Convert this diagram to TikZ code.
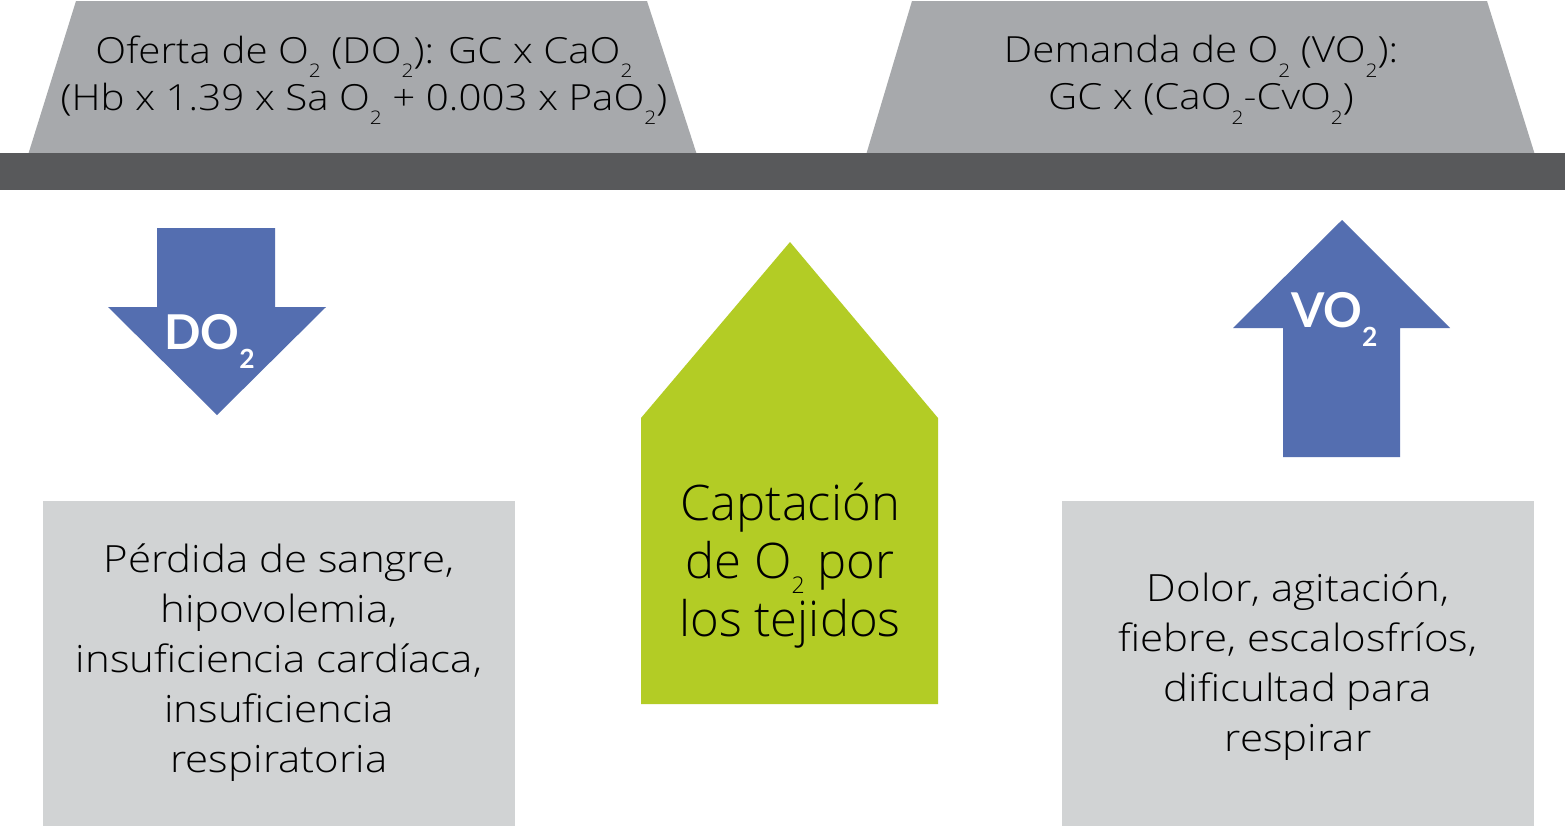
\documentclass[tikz,border=0pt]{standalone}
\usepackage{fontspec}
\setmainfont{Open Sans Light}
\newfontfamily\widefont{Open Sans Light}[FakeStretch=1.12]
\newfontfamily\arrowfont{Lato}
\definecolor{trapgray}{HTML}{A7A9AC}
\definecolor{bargray}{HTML}{58595B}
\definecolor{arrowblue}{HTML}{546EB0}
\definecolor{leafgreen}{HTML}{B3CC25}
\definecolor{boxgray}{HTML}{D1D3D4}
\newcommand\lo[1]{\raisebox{-0.4em}{\scalebox{0.52}{#1}}}
\newcommand\hlo[1]{\raisebox{-0.3em}{\scalebox{0.47}{#1}}}
\newcommand\blo[1]{\raisebox{-0.4em}{\scalebox{0.55}{#1}}}
\tikzset{
  toptext/.style={align=center, text=black, font=\widefont\fontsize{36}{47}\selectfont},
  boxtext/.style={align=center, text=black, font=\widefont\fontsize{37.5}{50}\selectfont},
  housetext/.style={align=center, text=black, font=\fontsize{49}{58}\selectfont},
  arrowtext/.style={text=white, font=\arrowfont\bfseries\fontsize{48}{48}\selectfont, inner sep=0pt},
}
\begin{document}
\begin{tikzpicture}[x=1pt,y=-1pt]
\useasboundingbox (0,0) rectangle (1565,827);
\fill[white] (0,0) rectangle (1565,827);
% trapezoids
\fill[trapgray] (76,1) -- (647,1) -- (697,155) -- (28,155) -- cycle;
\fill[trapgray] (912,1) -- (1487,1) -- (1535,155) -- (866,155) -- cycle;
% bar
\fill[bargray] (0,153) rectangle (1565,190);
% header texts
\node[toptext] (oferta) at (364,80) {Oferta de O\lo{2} (DO\lo{2}): GC x CaO\lo{2}\\(Hb x 1.39 x Sa O\lo{2} + 0.003 x PaO\lo{2})};
\node[toptext] (demanda) at (1201,80) {Demanda de O\lo{2} (VO\lo{2}):\\GC x (CaO\lo{2}-CvO\lo{2})};
% down arrow
\fill[arrowblue] (157,228) -- (275,228) -- (275,307) -- (326,307) -- (217,415) -- (108,307) -- (157,307) -- cycle;
\node[arrowtext, anchor=base west] (do2) at (164,349) {DO\blo{2}};
% up arrow
\fill[arrowblue] (1342,220) -- (1450,328) -- (1400,328) -- (1400,457) -- (1283,457) -- (1283,328) -- (1233,328) -- cycle;
\node[arrowtext, anchor=base west] (vo2) at (1291,327) {VO\blo{2}};
% green house
\fill[leafgreen] (790,242) -- (938,418) -- (938,704) -- (641,704) -- (641,418) -- cycle;
\node[housetext] (captacion) at (790,566) {Captación\\de O\hlo{2} por\\los tejidos};
% gray boxes
\fill[boxgray] (43,501) rectangle (515,826);
\fill[boxgray] (1062,501) rectangle (1534,826);
\node[boxtext] (perdida) at (279,663) {Pérdida de sangre,\\hipovolemia,\\insuficiencia cardíaca,\\insuficiencia\\respiratoria};
\node[boxtext] (dolor) at (1298,667) {Dolor, agitación,\\fiebre, escalosfríos,\\dificultad para\\respirar};
\end{tikzpicture}
\end{document}
